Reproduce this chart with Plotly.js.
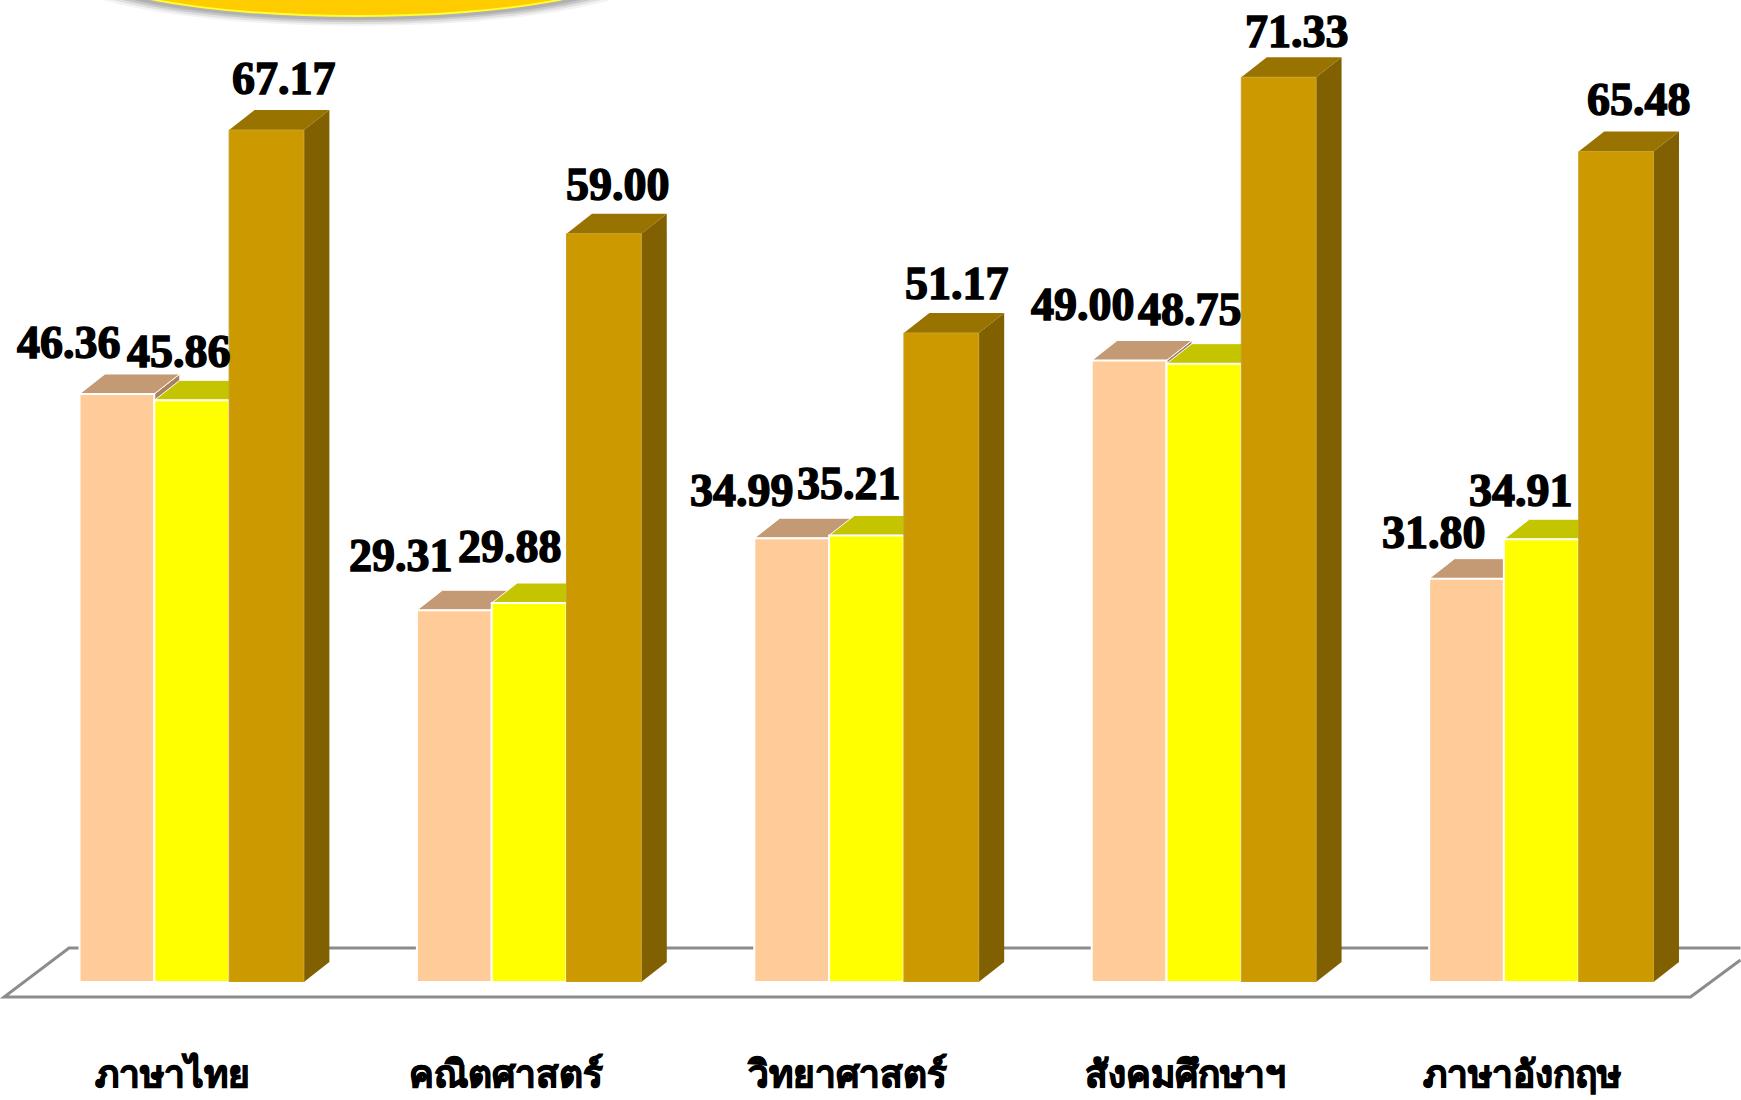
<!DOCTYPE html>
<html><head><meta charset="utf-8">
<script src="https://cdn.plot.ly/plotly-3.0.1.min.js"></script>
<style>
html,body{margin:0;padding:0;background:#fff;overflow:hidden}
.annotation-text{stroke:#000;stroke-width:1.5px}
.xtick text{stroke:#000;stroke-width:1.1px}
</style></head><body><div id="chart" style="width:1741px;height:1100px"></div>
<script>
const categories = ["ภาษาไทย","คณิตศาสตร์","วิทยาศาสตร์","สังคมศึกษาฯ","ภาษาอังกฤษ"];
const seriesA = [46.36,29.31,34.99,49.00,31.80];
const seriesB = [45.86,29.88,35.21,48.75,34.91];
const seriesC = [67.17,59.00,51.17,71.33,65.48];

const W=1741,H=1100,mL=23,mR=30.5,mT=0,mB=118;
const pw=W-mL-mR, ph=H-mT-mB, yMax=ph/12.684;
const idx=categories.map((_,i)=>i);
const xUnit=pw/5, yUnit=ph/yMax;
const gap=0.335, barW=(1-gap)/3;
const dx=25.5/xUnit, dy=20/yUnit;
const colors=[
 {front:'#FFCC99',top:'#C49A74',side:'#A88260',line:'#FFFFFF'},
 {front:'#FFFF00',top:'#C4C400',side:'#A8A800',line:'#FFFFFF'},
 {front:'#CC9900',top:'#997300',side:'#806000',line:'#C9A227'}
];
const all=[seriesA,seriesB,seriesC];
const labelDx=[[-48,-13,18],[-53,-19,14],[-50,-18,16],[-46,-14,18],[-33,-20,23]];
const labelDy=[[51,49,52],[55,57,49],[48,52,49],[56,54,46],[46,49,52]];
const tickNudge=[-0.058,-0.068,-0.056,-0.056,-0.058];

const shapes=[];
const pxX=p=>(p-mL)/pw, pxY=p=>1-(p-mT)/ph;
function ell(cx,cy,a,b,fill,op){shapes.push({type:'circle',xref:'paper',yref:'paper',layer:'below',
 x0:pxX(cx-a),x1:pxX(cx+a),y0:pxY(cy+b),y1:pxY(cy-b),fillcolor:fill,opacity:op,line:{width:0}});}
shapes.push({type:'path',xref:'paper',yref:'paper',layer:'below',
 path:`M ${pxX(1741)} ${pxY(948)} L ${pxX(69)} ${pxY(948)} L ${pxX(4)} ${pxY(997)} L ${pxX(1691)} ${pxY(997)} L ${pxX(1741)} ${pxY(960)}`,
 line:{color:'#8C8C8C',width:3},fillcolor:'rgba(0,0,0,0)'});
[[26,.10],[24,.18],[22,.28],[20,.35]].forEach(([b,o])=>ell(357,-33,275+(b-17)*3.5,50+(b-17),'#8a8a8a',o));
ell(357,-33,275,50,'#FFFF33',1);
ell(357,-34.5,274,49.5,'#FFCC00',1);

all.forEach((vals,s)=>{
 const off=(s-1)*barW;
 vals.forEach((v,i)=>{
  const x0=i+off-barW/2,x1=i+off+barW/2,c=colors[s];
  shapes.push({type:'path',layer:'below',xref:'x',yref:'y',fillcolor:c.side,line:{color:s<2?'#FFFFFF':c.side,width:s<2?1:0},
   path:`M ${x1} 0 L ${x1+dx} ${dy} L ${x1+dx} ${v+dy} L ${x1} ${v} Z`});
  shapes.push({type:'path',layer:'below',xref:'x',yref:'y',fillcolor:c.top,line:{color:s<2?'#FFFFFF':c.top,width:s<2?1:0},
   path:`M ${x0} ${v} L ${x0+dx} ${v+dy} L ${x1+dx} ${v+dy} L ${x1} ${v} Z`});
 });
});

const traces=all.map((vals,s)=>({type:'bar',x:idx,y:vals,name:'s'+s,cliponaxis:false,
 marker:{color:colors[s].front,line:{color:colors[s].line,width:s<2?2:1}},hoverinfo:'skip'}));

const annotations=[];
all.forEach((vals,s)=>vals.forEach((v,i)=>{
 annotations.push({x:i+(s-1)*barW,y:v,xref:'x',yref:'y',text:v.toFixed(2),showarrow:false,
  xanchor:'center',yanchor:'middle',xshift:labelDx[i][s],yshift:labelDy[i][s],
  font:{family:'"Liberation Serif",serif',size:46,color:'#000',weight:700}});
}));

Plotly.newPlot('chart',traces,{
 width:W,height:H,margin:{l:mL,r:mR,t:mT,b:mB,pad:0},
 paper_bgcolor:'#fff',plot_bgcolor:'rgba(0,0,0,0)',showlegend:false,
 barmode:'group',bargap:gap,bargroupgap:0,
 xaxis:{type:'linear',range:[-0.5,4.5],tickmode:'array',tickvals:idx.map(i=>i+tickNudge[i]),ticktext:categories,
  showgrid:false,zeroline:false,showline:false,ticks:'outside',ticklen:60,tickcolor:'rgba(0,0,0,0)',
  tickfont:{family:'"Noto Sans",sans-serif',size:37,color:'#000',weight:700}},
 yaxis:{range:[0,yMax],visible:false,showgrid:false,zeroline:false},
 shapes,annotations
},{staticPlot:true});
</script></body></html>
